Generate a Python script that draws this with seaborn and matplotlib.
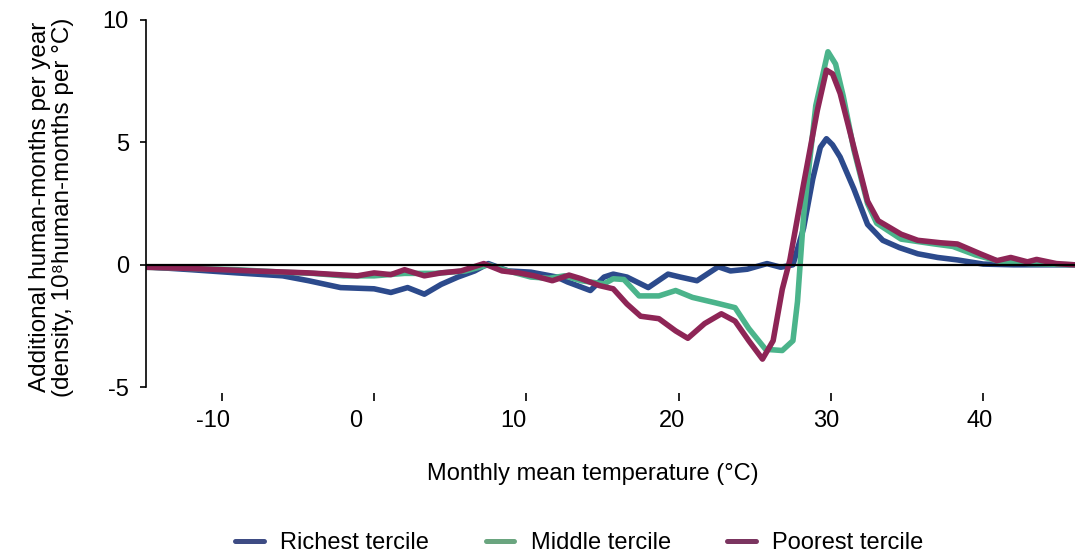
import numpy as np
import pandas as pd
import matplotlib
matplotlib.use("Agg")
import matplotlib.pyplot as plt
import matplotlib.transforms as mtransforms
from matplotlib.lines import Line2D
import seaborn as sns

# Values
richest_x = [-15, -12, -9, -6, -4.3, -2.2, 0, 1.1, 2.2, 3.3, 4.4, 5.5, 6.6, 7.5, 8.8, 10.3,
             12, 12.7, 14.2, 15.1, 15.7, 16.6, 18, 19.3, 20.1, 21.2, 22.6, 23.4, 24.5, 25.8,
             26.7, 27.5, 28.2, 28.8, 29.3, 29.7, 30.1, 30.6, 31.5, 32.4, 33.4, 34.5, 35.7,
             37, 38.3, 40, 42, 44, 46]
richest_y = [-0.08, -0.2, -0.33, -0.45, -0.65, -0.93, -0.98, -1.13, -0.93, -1.2, -0.8, -0.5,
             -0.25, 0.05, -0.25, -0.3, -0.5, -0.7, -1.05, -0.5, -0.38, -0.5, -0.93, -0.38,
             -0.5, -0.65, -0.08, -0.25, -0.18, 0.05, -0.1, 0.0, 1.5, 3.5, 4.8, 5.15, 4.9,
             4.4, 3.1, 1.65, 1.0, 0.7, 0.45, 0.3, 0.2, 0.03, 0.0, 0.0, 0.0]

middle_x = [-15, -12, -9, -6, -4, -2, 0, 2, 4, 6, 7.5, 8.5, 10.3, 11.5, 12.5, 13.6, 15.1,
            15.7, 16.4, 17.4, 18.7, 19.8, 20.9, 22.4, 23.7, 24.6, 25.7, 26.8, 27.5, 27.8,
            28.2, 29, 29.8, 30.3, 30.8, 31.5, 32.4, 33, 34.6, 36.8, 38, 39.5, 41, 43, 46]
middle_y = [-0.1, -0.15, -0.2, -0.3, -0.35, -0.45, -0.45, -0.35, -0.35, -0.25, 0.0, -0.2,
            -0.5, -0.55, -0.45, -0.65, -0.78, -0.57, -0.6, -1.27, -1.27, -1.05, -1.33, -1.55,
            -1.75, -2.6, -3.45, -3.5, -3.1, -1.5, 2.0, 6.5, 8.7, 8.2, 6.9, 4.7, 2.5, 1.7,
            1.05, 0.85, 0.75, 0.4, 0.15, 0.05, 0.0]

poorest_x = [-15, -12, -8, -4.3, -1.1, 0, 1.1, 2, 3.3, 4.4, 5.7, 7.2, 8.4, 9.5, 10.5, 11.7,
             12.8, 13.6, 14.8, 15.7, 16.6, 17.5, 18.7, 19.8, 20.6, 21.7, 22.8, 23.7, 24.6,
             25.5, 26.2, 26.8, 27.3, 28.2, 29.1, 29.7, 30.1, 30.6, 31.5, 32.4, 33.1, 34.6,
             35.7, 37.2, 38.3, 39.8, 40.9, 41.8, 42.9, 43.5, 44.8, 46]
poorest_y = [-0.1, -0.15, -0.25, -0.33, -0.45, -0.33, -0.4, -0.2, -0.45, -0.33, -0.25, 0.05,
             -0.25, -0.33, -0.45, -0.65, -0.42, -0.57, -0.85, -0.98, -1.6, -2.1, -2.2, -2.7,
             -3.0, -2.4, -2.0, -2.3, -3.1, -3.85, -3.1, -1.0, 0.2, 3.3, 6.3, 7.95, 7.8, 7.0,
             4.8, 2.6, 1.8, 1.25, 1.0, 0.9, 0.85, 0.45, 0.17, 0.3, 0.12, 0.22, 0.05, 0.0]

groups = ["Richest tercile", "Middle tercile", "Poorest tercile"]
line_colors = ["#2c4a8c", "#4bb48b", "#8e2556"]
legend_colors = ["#3e4c84", "#6aa57f", "#7b3560"]
x_ticks = [-10, 0, 10, 20, 30, 40]
y_ticks = [-5, 0, 5, 10]
# the x tick labels in the reference sit a little left of their tick marks (px)
x_label_shift = [-9, -18, -13, -7, -5, -4]

df = pd.concat([
    pd.DataFrame({"temp": richest_x, "val": richest_y, "group": groups[0]}),
    pd.DataFrame({"temp": middle_x, "val": middle_y, "group": groups[1]}),
    pd.DataFrame({"temp": poorest_x, "val": poorest_y, "group": groups[2]}),
])

sns.set_style("ticks")
plt.rcParams["font.family"] = ["Liberation Sans", "DejaVu Sans"]
plt.rcParams["axes.unicode_minus"] = False
plt.rcParams["text.color"] = "black"
plt.rcParams["axes.labelcolor"] = "black"

fig = plt.figure(figsize=(10.79, 5.54), dpi=100)
ax = fig.add_axes([0.135, 0.301, 0.861, 0.663])

sns.lineplot(data=df, x="temp", y="val", hue="group", hue_order=groups,
             palette=dict(zip(groups, line_colors)), linewidth=4.0, sort=False,
             legend=False, ax=ax)
ax.axhline(0, color="black", linewidth=1.6, zorder=5)

ax.set_xlim(-15, 46)
ax.set_ylim(-5, 10)
ax.set_xticks(x_ticks)
ax.set_yticks(y_ticks)
ax.tick_params(labelsize=17, colors="black", width=1.2)
ax.tick_params(axis="y", length=4, pad=8)
ax.tick_params(axis="x", length=5.5, pad=7)
sns.despine(ax=ax, bottom=True)
ax.spines["bottom"].set_position(("outward", 4))
ax.spines["left"].set_linewidth(1.2)
ax.spines["left"].set_color("black")

for lab, dx in zip(ax.get_xticklabels(), x_label_shift):
    lab.set_transform(lab.get_transform() +
                      mtransforms.ScaledTranslation(dx / 100, 0, fig.dpi_scale_trans))

ax.set_xlabel("Monthly mean temperature (°C)", fontsize=17)
ax.xaxis.set_label_coords(0.481, -0.205)
ax.set_ylabel("Additional human-months per year\n(density, 10⁸human-months per °C)",
              fontsize=17.5, linespacing=1.05)
ax.yaxis.set_label_coords(-0.077, 0.49)

handles = [Line2D([], [], color=c, linewidth=3.6) for c in legend_colors]
fig.legend(handles, groups, loc="center", bbox_to_anchor=(0.537, 0.02), ncol=3,
           frameon=False, fontsize=17, handlelength=1.2, columnspacing=2.4,
           handletextpad=0.7)

fig.savefig("out.png", dpi=100)
